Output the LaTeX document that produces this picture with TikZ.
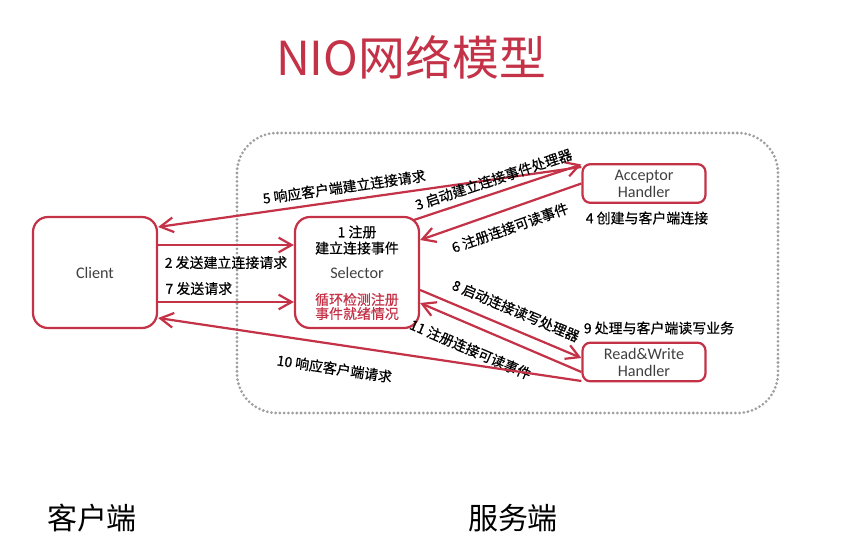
\documentclass[tikz,border=0pt]{standalone}
\usepackage{fontspec}
\setmainfont{Carlito}
\newfontfamily\cjk{Noto Sans CJK SC}
\newfontfamily\cjkb{Noto Sans CJK SC}[FakeBold=0.5]
\usetikzlibrary{arrows.meta,calc}
\definecolor{nred}{RGB}{196,50,72}
\definecolor{boxtext}{RGB}{64,64,64}

\begin{document}
\begin{tikzpicture}[x=0.03cm,y=-0.03cm,
  bigbox/.style={draw=nred,line width=1.9pt,rounded corners=4.5mm,fill=white,minimum width=3.72cm,minimum height=3.33cm,inner sep=0pt,text=boxtext,font=\fontsize{13.8}{15}\selectfont},
  hbox/.style={draw=nred,line width=1.9pt,rounded corners=2.4mm,fill=white,minimum width=3.69cm,minimum height=1.16cm,inner sep=0pt,align=center,text=boxtext,font=\fontsize{13.8}{14.5}\selectfont},
  arr/.style={draw=nred,line width=1.9pt,-{Straight Barb[length=3.9mm,width=4.4mm]}},
  lbl/.style={font=\cjkb\fontsize{11.9}{13}\selectfont,inner sep=0pt,sloped},
  txt/.style={font=\cjkb\fontsize{11.9}{13}\selectfont,inner sep=0pt,align=center}]

\useasboundingbox (0,0) rectangle (854,560);

\node[font=\cjk\fontsize{40}{44}\selectfont,text=nred] (title) at (411,57) {NIO网络模型};

\draw[gray!75,line width=2.6pt,line cap=round,dash pattern=on 0pt off 3.6pt,rounded corners=1.2cm] (237,133) rectangle (778,413);

\node[bigbox] (client) at (95,272.5) {Client};
\node[bigbox] (sel) at (357,272.5) {Selector};
\node[hbox] (acc) at (644,183.5) {Acceptor\\Handler};
\node[hbox] (rw) at (644,362) {Read\&Write\\Handler};

\node[txt,font=\cjkb\fontsize{11.9}{13.7}\selectfont] (selreg) at (357,240) {1 注册\\建立连接事件};
\node[txt,text=nred,font=\cjkb\fontsize{11.9}{12}\selectfont] (selloop) at (357,306.5) {循环检测注册\\事件就绪情况};
\node[txt] (accnote) at (647,218) {4 创建与客户端连接};
\node[txt] (rwnote) at (659,328) {9 处理与客户端读写业务};

\draw[arr] ($(acc.west)+(0,-16.5)$) -- node[lbl,pos=0.556,above=5pt] {5 响应客户端建立连接请求} ($(client.east)+(0,-45.5)$);
\draw[arr] ($(sel.north east)+(-6,4)$) -- node[lbl,pos=0.5,above=5pt] {3 启动建立连接事件处理器} ($(acc.west)+(0,-19)$);
\draw[arr] (acc.west) -- node[lbl,pos=0.48,below=9pt] {6 注册连接可读事件} ($(sel.east)+(0,-32.5)$);
\draw[arr] ($(client.east)+(0,-27.5)$) -- node[lbl,pos=0.5,below=8.5pt] {2 发送建立连接请求} ($(sel.west)+(0,-27.5)$);
\draw[arr] ($(client.east)+(0,29.5)$) -- node[lbl,pos=0.3,above=5pt] {7 发送请求} ($(sel.west)+(0,29.5)$);
\draw[arr] ($(sel.east)+(0,17.5)$) -- node[lbl,pos=0.55,above=9pt] {8 启动连接读写处理器} ($(rw.west)+(0,-4)$);
\draw[arr] ($(rw.west)+(0,10)$) -- node[lbl,pos=0.632,below=13pt] {11 注册连接可读事件} ($(sel.east)+(0,30.5)$);
\draw[arr] ($(rw.west)+(0,19)$) -- node[lbl,pos=0.575,below=14pt] {10 响应客户端请求} ($(client.east)+(0,45.5)$);

\node[font=\cjk\fontsize{25.6}{28}\selectfont] (cside) at (92,518) {客户端};
\node[font=\cjk\fontsize{25.6}{28}\selectfont] (sside) at (513,518) {服务端};
\end{tikzpicture}
\end{document}
